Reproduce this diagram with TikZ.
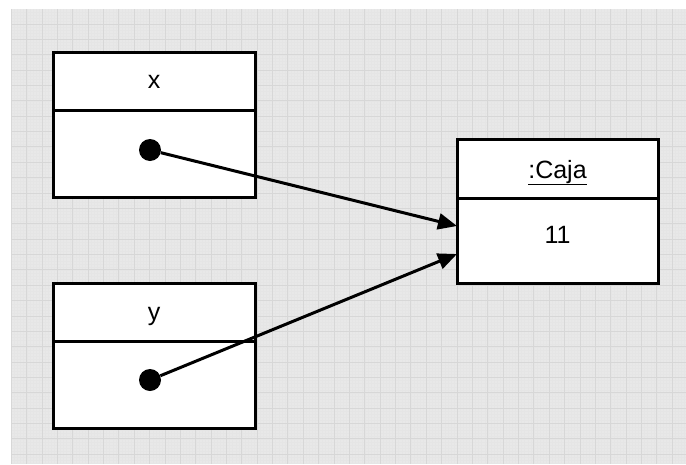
\documentclass[tikz,border=0pt]{standalone}
\usepackage{fontspec}
\setmainfont{Liberation Sans}
\usetikzlibrary{arrows.meta}
\begin{document}
\begin{tikzpicture}[x=1pt,y=-1pt,
  cell/.style={draw=black,line width=3pt,fill=white,rectangle,inner sep=0pt,outer sep=0pt,
    minimum width=202pt,font=\fontsize{25}{29}\selectfont},
  celltext/.style={inner sep=0pt,font=\fontsize{25}{29}\selectfont},
  pointer/.style={circle,fill=black,inner sep=0pt,minimum size=22pt},
  ref/.style={line width=3pt,-{Triangle[length=19pt,width=16pt]}},
]
\useasboundingbox (0,0) rectangle (686,464);
% paper with grid
\fill[gray!18] (11,9) rectangle (686,464);
\begin{scope}
  \clip (11,9) rectangle (686,464);
  \foreach \i in {-5,...,225} {
    \draw[gray!20,line width=0.4pt] ({26.7+\i*3.074},9) -- ({26.7+\i*3.074},464);
    \draw[gray!20,line width=0.4pt] (11,{24+\i*3.074}) -- (686,{24+\i*3.074});
  }
  \foreach \i in {-1,...,45} {
    \draw[gray!31,line width=1pt] ({26.7+\i*15.37},9) -- ({26.7+\i*15.37},464);
    \draw[gray!31,line width=1pt] (11,{24+\i*15.37}) -- (686,{24+\i*15.37});
  }
\end{scope}
% variable x
\node[cell,minimum height=58pt] (xh) at (154,81) {};
\node[celltext] (xl) at ([yshift=-1pt]xh.center) {x};
\node[cell,minimum height=87pt] (xb) at (154,153.5) {};
% variable y
\node[cell,minimum height=58pt] (yh) at (154,312) {};
\node[celltext,anchor=base] (yl) at ([yshift=-8pt]yh.center) {y};
\node[cell,minimum height=87pt] (yb) at (154,384.5) {};
% object
\node[cell,minimum width=201pt,minimum height=59pt] (ch) at (557.5,168.5) {};
\node[celltext,anchor=base] (cl) at ([yshift=-9.5pt]ch.center) {\underline{:Caja}};
\node[cell,minimum width=201pt,minimum height=85pt] (cb) at (557.5,240.5) {};
\node[celltext] (cv) at ([yshift=6pt]cb.center) {11};
% references
\node[pointer] (px) at (150,150) {};
\node[pointer] (py) at (150,380) {};
\coordinate (t1) at ([yshift=14.5pt]cb.west);
\coordinate (t2) at ([yshift=-13.5pt]cb.west);
\draw[ref] (px) -- (t1);
\draw[ref] (py) -- (t2);
\end{tikzpicture}
\end{document}
